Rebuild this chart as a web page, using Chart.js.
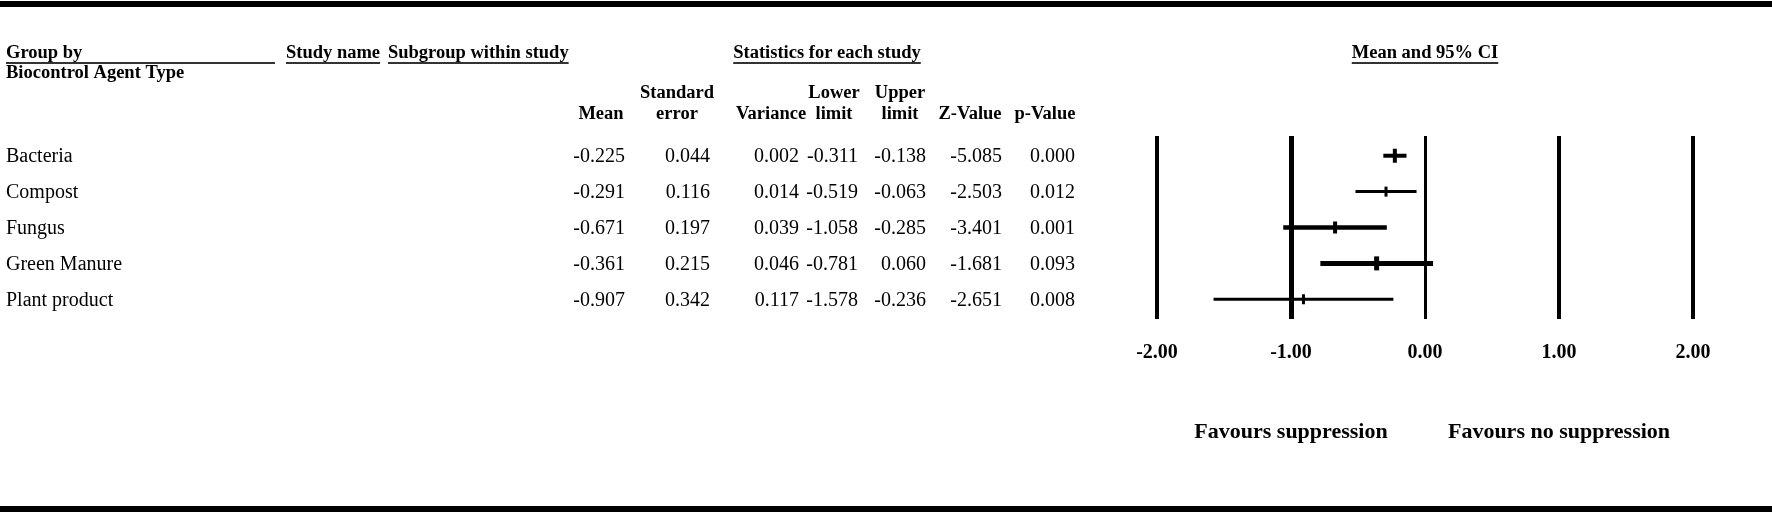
<!DOCTYPE html>
<html>
<head>
<meta charset="utf-8">
<title>Mean and 95% CI by biocontrol agent type</title>
<script src="https://cdn.jsdelivr.net/npm/chart.js@4/dist/chart.umd.min.js"></script>
<style>
  html, body { margin: 0; padding: 0; background: #fff; }
  #wrap { width: 1772px; height: 516px; position: relative; }
</style>
</head>
<body>
<div id="wrap"><canvas id="forest" width="1772" height="516"></canvas></div>
<script>
// data
var groups = ["Bacteria", "Compost", "Fungus", "Green Manure", "Plant product"];
var means = [-0.225, -0.291, -0.671, -0.361, -0.907];
var stdErrors = [0.044, 0.116, 0.197, 0.215, 0.342];
var variances = [0.002, 0.014, 0.039, 0.046, 0.117];
var lowerLimits = [-0.311, -0.519, -1.058, -0.781, -1.578];
var upperLimits = [-0.138, -0.063, -0.285, 0.060, -0.236];
var zValues = [-5.085, -2.503, -3.401, -1.681, -2.651];
var pValues = [0.000, 0.012, 0.001, 0.093, 0.008];
var xTicks = [-2, -1, 0, 1, 2];

// line weights (style only)
var gridWidths = [4, 5, 3, 4, 4];
var ciWidths = [4, 3, 4.5, 5, 3];
var markWidths = [4, 3, 4, 5, 3];
var markHalf = [7, 5, 6, 7, 5];

var serif = "'Liberation Serif', 'Times New Roman', serif";

// table columns: header lines centred at "center", values right-aligned at "right"
var columns = [
  { head: ["", "Mean"], values: means, center: 601, right: 625 },
  { head: ["Standard", "error"], values: stdErrors, center: 677, right: 710 },
  { head: ["", "Variance"], values: variances, center: 771, right: 799 },
  { head: ["Lower", "limit"], values: lowerLimits, center: 834, right: 858 },
  { head: ["Upper", "limit"], values: upperLimits, center: 900, right: 926 },
  { head: ["", "Z-Value"], values: zValues, center: 970, right: 1002 },
  { head: ["", "p-Value"], values: pValues, center: 1045, right: 1075 }
];

function underlined(ctx, text, x, y, minWidth) {
  var w = Math.max(ctx.measureText(text).width, minWidth || 0);
  var from = ctx.textAlign === "center" ? x - w / 2 : x;
  ctx.fillText(text, x, y);
  ctx.fillStyle = "#333";
  ctx.fillRect(from, y + 9, w, 2);
  ctx.fillStyle = "#000";
}

var tablePlugin = {
  id: "forestTable",
  beforeDraw: function(chart) {
    var ctx = chart.ctx;
    ctx.save();
    ctx.fillStyle = "#fff";
    ctx.fillRect(0, 0, chart.width, chart.height);
    ctx.fillStyle = "#000";
    ctx.fillRect(0, 1, chart.width, 6);
    ctx.fillRect(0, 506, chart.width, 6);
    ctx.restore();
  },
  afterDraw: function(chart) {
    var ctx = chart.ctx;
    var y = chart.scales.y;
    var x = chart.scales.x;
    ctx.save();
    ctx.fillStyle = "#000";
    ctx.textBaseline = "middle";

    // top header row
    ctx.font = "bold 18.5px " + serif;
    ctx.textAlign = "left";
    underlined(ctx, "Group by", 6, 53, 269);
    underlined(ctx, "Study name", 286, 53);
    underlined(ctx, "Subgroup within study", 388, 53);
    ctx.fillText("Biocontrol Agent Type", 6, 73);
    ctx.textAlign = "center";
    underlined(ctx, "Statistics for each study", 827, 53);
    underlined(ctx, "Mean and 95% CI", x.getPixelForValue(0), 53);

    // column headers
    columns.forEach(function(col) {
      ctx.fillText(col.head[0], col.center, 93);
      ctx.fillText(col.head[1], col.center, 114);
    });

    // rows
    ctx.font = "20px " + serif;
    groups.forEach(function(g, i) {
      var py = y.getPixelForValue(i) + 1;
      ctx.textAlign = "left";
      ctx.fillText(g, 6, py);
      ctx.textAlign = "right";
      columns.forEach(function(col) {
        ctx.fillText(col.values[i].toFixed(3), col.right, py);
      });
    });

    // favours labels, centred under -1 and +1
    ctx.font = "bold 22px " + serif;
    ctx.textAlign = "center";
    ctx.fillText("Favours suppression", x.getPixelForValue(-1), 432);
    ctx.fillText("Favours no suppression", x.getPixelForValue(1), 432);
    ctx.restore();
  }
};

var datasets = groups.map(function(g, i) {
  return {
    label: g,
    data: [{ x: lowerLimits[i], y: i }, { x: upperLimits[i], y: i }],
    showLine: true,
    borderColor: "#000",
    borderWidth: ciWidths[i],
    borderCapStyle: "butt",
    pointRadius: 0,
    pointHoverRadius: 0
  };
});

datasets.push({
  label: "Mean",
  data: means.map(function(m, i) { return { x: m, y: i }; }),
  showLine: false,
  pointStyle: "line",
  rotation: 90,
  pointRadius: markHalf,
  pointHoverRadius: markHalf,
  borderColor: "#000",
  backgroundColor: "#000",
  pointBorderWidth: markWidths,
  borderWidth: markWidths
});

var chart = new Chart(document.getElementById("forest"), {
  type: "scatter",
  data: { datasets: datasets },
  options: {
    responsive: false,
    animation: false,
    devicePixelRatio: 1,
    events: [],
    layout: { padding: { left: 1157, right: 79, top: 136, bottom: 147 } },
    plugins: {
      legend: { display: false },
      tooltip: { enabled: false }
    },
    scales: {
      x: {
        type: "linear",
        min: -2,
        max: 2,
        afterFit: function(scale) { scale.height = 50; },
        afterBuildTicks: function(scale) {
          scale.ticks = xTicks.map(function(v) { return { value: v }; });
        },
        ticks: {
          padding: 22,
          color: "#000",
          font: { family: serif, size: 20, weight: "bold" },
          callback: function(v) { return Number(v).toFixed(2); }
        },
        grid: {
          color: "#000",
          lineWidth: function(c) { return gridWidths[c.index]; },
          drawTicks: false
        },
        border: { display: false }
      },
      y: {
        type: "linear",
        display: false,
        reverse: true,
        min: -0.55,
        max: 4.55
      }
    }
  },
  plugins: [tablePlugin]
});
</script>
</body>
</html>
